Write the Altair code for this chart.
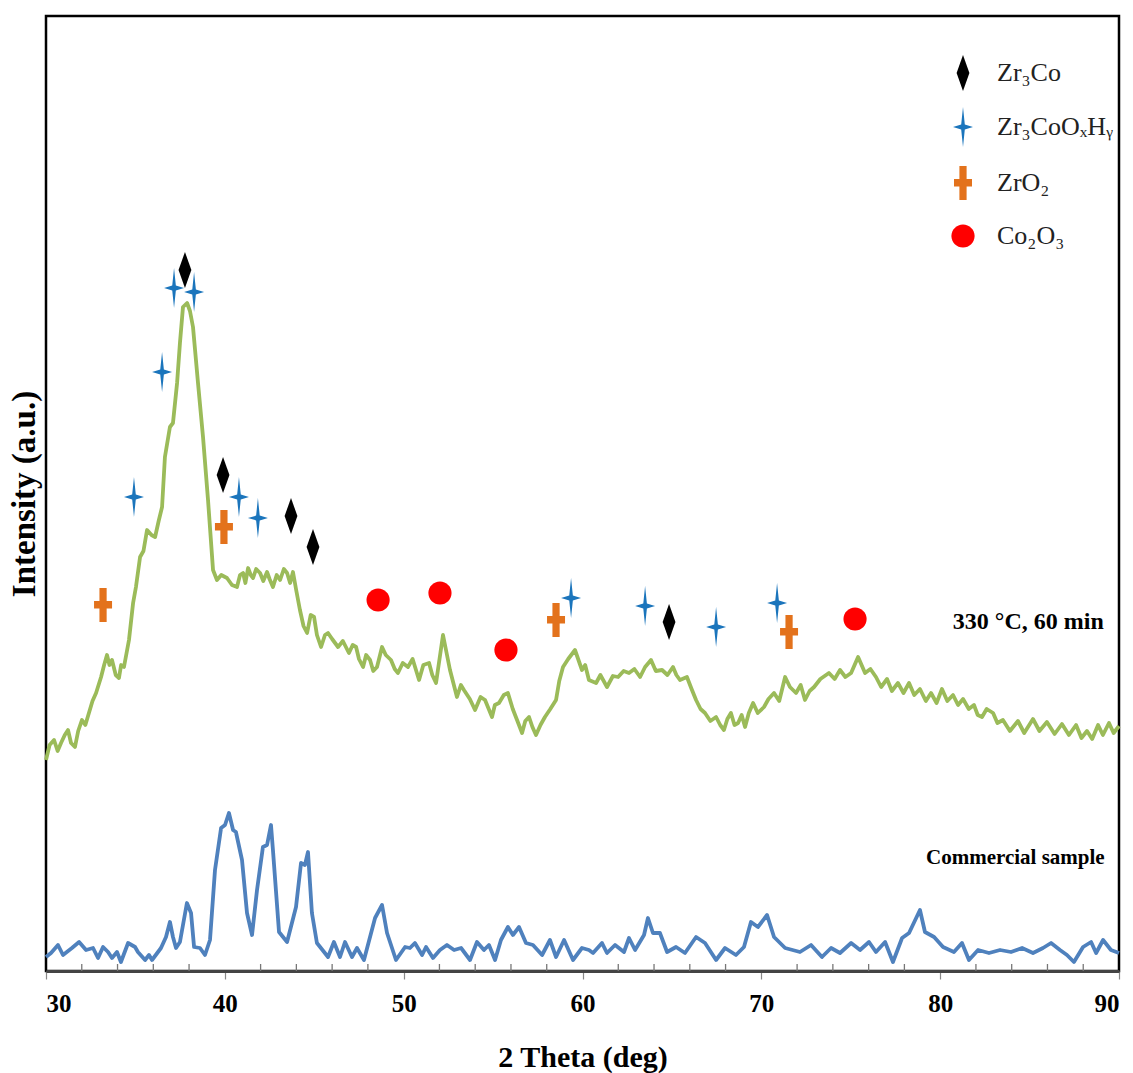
import altair as alt
import pandas as pd

# ---- 330 °C, 60 min (green) ----
two_theta_330 = [30.0, 30.2, 30.45, 30.65, 30.84, 31.05, 31.23, 31.4, 31.62, 31.8, 32.01, 32.2, 32.40, 32.6, 32.80,
                 33.08, 33.25, 33.41, 33.55, 33.69, 33.9, 34.08, 34.2, 34.36, 34.64, 34.87, 35.03, 35.26, 35.45,
                 35.65, 35.9, 36.10, 36.3, 36.49, 36.65, 36.93, 37.10, 37.33, 37.49, 37.66, 37.89, 38.05, 38.22,
                 38.50, 38.78, 39.06, 39.34, 39.56, 39.8, 40.12, 40.4, 40.68, 40.85, 41.02, 41.15, 41.30, 41.45,
                 41.58, 41.75, 41.97, 42.15, 42.36, 42.5, 42.69, 42.9, 43.09, 43.3, 43.48, 43.65, 43.81, 44.0,
                 44.20, 44.40, 44.60, 44.8, 44.99, 45.15, 45.38, 45.6, 45.77, 46.0, 46.33, 46.6, 46.94, 47.15,
                 47.34, 47.5, 47.73, 47.9, 48.12, 48.3, 48.51, 48.79, 49.0, 49.29, 49.5, 49.68, 49.95, 50.24,
                 50.5, 50.86, 51.1, 51.42, 51.6, 51.81, 52.20, 52.59, 52.98, 53.2, 53.37, 53.7, 53.99, 54.3,
                 54.55, 54.94, 55.1, 55.33, 55.6, 55.83, 56.1, 56.34, 56.62, 56.8, 57.01, 57.2, 57.40, 57.65,
                 57.90, 58.2, 58.52, 58.7, 58.91, 59.2, 59.58, 59.97, 60.15, 60.36, 60.76, 61.0, 61.37, 61.7,
                 61.99, 62.3, 62.60, 62.9, 63.22, 63.5, 63.83, 64.1, 64.45, 64.75, 65.06, 65.25, 65.45, 65.84,
                 66.1, 66.35, 66.6, 66.85, 67.15, 67.47, 67.7, 67.91, 68.1, 68.30, 68.5, 68.70, 68.9, 69.09,
                 69.3, 69.54, 69.8, 70.15, 70.4, 70.71, 71.0, 71.33, 71.6, 71.94, 72.2, 72.44, 72.7, 72.95,
                 73.3, 73.78, 74.1, 74.40, 74.7, 75.02, 75.41, 75.80, 76.1, 76.41, 76.7, 77.03, 77.3, 77.64,
                 77.95, 78.26, 78.55, 78.87, 79.2, 79.49, 79.8, 80.10, 80.4, 80.72, 81.0, 81.28, 81.6, 81.89,
                 82.1, 82.34, 82.6, 82.96, 83.2, 83.51, 83.9, 84.35, 84.7, 85.19, 85.55, 85.97, 86.4, 86.81,
                 87.2, 87.60, 87.9, 88.21, 88.5, 88.83, 89.1, 89.44, 89.7, 90.0]
intensity_330 = [211, 226, 231, 220, 228, 236, 241, 228, 224, 240, 251, 246, 258, 270, 278,
                 294, 306, 316, 306, 311, 296, 293, 306, 304, 331, 368, 384, 414, 420,
                 441, 436, 434, 450, 464, 514, 544, 548, 588, 628, 664, 668, 660, 644,
                 588, 534, 471, 401, 391, 396, 393, 386, 384, 396, 398, 388, 403, 396,
                 393, 402, 398, 390, 399, 392, 384, 396, 391, 402, 398, 388, 399, 380,
                 361, 345, 338, 356, 354, 336, 324, 336, 338, 332, 324, 330, 318, 326,
                 324, 312, 304, 316, 311, 300, 304, 324, 316, 311, 302, 298, 308, 304,
                 312, 291, 306, 308, 296, 288, 336, 301, 274, 286, 281, 272, 261, 274,
                 271, 254, 266, 268, 276, 278, 262, 251, 238, 250, 254, 244, 236, 246,
                 254, 262, 271, 290, 304, 312, 321, 301, 306, 291, 288, 296, 284, 295,
                 294, 300, 298, 302, 294, 304, 311, 300, 301, 296, 304, 296, 291, 294,
                 282, 271, 262, 258, 250, 254, 246, 241, 252, 258, 246, 248, 256, 244,
                 258, 268, 258, 264, 272, 278, 270, 294, 284, 278, 286, 271, 280, 284,
                 292, 298, 292, 301, 294, 298, 314, 298, 302, 294, 284, 292, 280, 288,
                 278, 288, 276, 282, 270, 278, 268, 282, 270, 276, 266, 272, 262, 266,
                 256, 254, 262, 258, 248, 251, 240, 250, 238, 252, 240, 249, 237, 247,
                 236, 246, 233, 240, 232, 246, 236, 248, 238, 245]

# ---- Commercial sample (blue) ----
two_theta_comm = [30.0, 30.28, 30.67, 30.95, 31.45, 31.85, 32.24, 32.63, 32.91, 33.19, 33.47, 33.69, 33.97, 34.19,
                  34.59, 34.98, 35.14, 35.54, 35.76, 35.93, 36.43, 36.71, 36.93, 37.10, 37.27, 37.49, 37.88, 38.11,
                  38.28, 38.61, 38.89, 39.17, 39.45, 39.79, 40.01, 40.23, 40.46, 40.62, 40.96, 41.24, 41.52, 41.80,
                  42.13, 42.36, 42.58, 42.69, 43.03, 43.48, 43.98, 44.26, 44.48, 44.65, 44.87, 45.15, 45.55, 45.77,
                  46.10, 46.44, 46.72, 47.11, 47.39, 47.78, 48.40, 48.79, 49.07, 49.57, 50.08, 50.35, 50.63, 51.03,
                  51.25, 51.64, 52.03, 52.42, 52.82, 53.21, 53.71, 54.10, 54.49, 54.77, 55.11, 55.44, 55.83, 56.11,
                  56.45, 56.84, 57.23, 57.74, 58.18, 58.52, 58.97, 59.47, 59.97, 60.36,
                  60.59, 61.09, 61.37, 61.82, 62.32, 62.60, 62.94, 63.44, 63.66, 63.94, 64.33, 64.73, 65.23, 65.73,
                  66.35, 66.85, 67.47, 67.97, 68.58, 69.03, 69.42, 69.81, 70.32, 70.71, 71.33, 72.16, 72.78, 73.39,
                  73.90, 74.40, 75.02, 75.52, 76.02, 76.41, 76.92, 77.36, 77.87, 78.26, 78.87, 79.15, 79.66, 80.16,
                  80.77, 81.22, 81.61, 82.12, 82.73, 83.35, 83.96, 84.58, 85.19, 85.75, 86.20, 86.70, 87.09, 87.48,
                  87.99, 88.44, 88.72, 89.11, 89.55, 90.0]
intensity_comm = [14, 18, 26, 16, 23, 29, 21, 23, 13, 24, 19, 13, 19, 9,
                  28, 24, 19, 11, 16, 11, 23, 34, 49, 34, 23, 29, 68, 58,
                  24, 23, 16, 31, 101, 143, 146, 158, 141, 139, 111, 58, 36, 81,
                  124, 126, 146, 121, 39, 29, 64, 108, 106, 119, 58, 28, 19, 14,
                  29, 14, 29, 14, 23, 11, 53, 66, 38, 11, 24, 23, 28, 16,
                  24, 13, 21, 26, 21, 23, 11, 29, 21, 26, 11, 31, 44, 36,
                  44, 28, 26, 16, 31, 14, 31, 11, 23, 21,
                  18, 28, 18, 26, 19, 33, 21, 36, 53, 38, 38, 19, 24, 18,
                  34, 28, 11, 23, 16, 24, 49, 44, 56, 34, 23, 19, 26, 14,
                  23, 18, 28, 21, 29, 19, 29, 9, 33, 38, 61, 39, 34, 24,
                  19, 28, 11, 21, 18, 21, 19, 23, 18, 23, 28, 21, 16, 9,
                  24, 29, 18, 31, 21, 18]

assert len(two_theta_330) == len(intensity_330)
assert len(two_theta_comm) == len(intensity_comm)

# ---- Phase markers ----
phases = ["Zr\u2083Co", "Zr\u2083CoO\u2093H\u1d67", "ZrO\u2082", "Co\u2082O\u2083"]
zr3co_x = [37.77, 39.90, 43.70, 44.93, 64.84]
zr3co_y = [701, 496, 455, 424, 349]
zr3coohy_x = [37.16, 38.28, 36.49, 34.92, 40.79, 41.85, 59.36, 63.50, 67.47, 70.88]
zr3coohy_y = [683, 679, 599, 474, 474, 453, 373, 365, 344, 368]
zro2_x = [33.19, 39.95, 58.52, 71.55]
zro2_y = [366, 444, 351, 339]
co2o3_x = [48.57, 52.03, 55.72, 75.24]
co2o3_y = [371, 378, 321, 352]

phase_colors = ["#000000", "#1b75bc", "#e3721c", "#ff0000"]
phase_shapes = [
    "M0,-0.9L0.32,0L0,0.9L-0.32,0Z",
    "M0,-1L0.09,-0.12L0.5,0L0.09,0.12L0,1L-0.09,0.12L-0.5,0L-0.09,-0.12Z",
    "M-0.18,-0.85L0.18,-0.85L0.18,-0.2L0.45,-0.2L0.45,0.18L0.18,0.18L0.18,0.85L-0.18,0.85L-0.18,0.18L-0.45,0.18L-0.45,-0.2L-0.18,-0.2Z",
    "M0.58,0A0.58,0.58 0 1,1 -0.58,0A0.58,0.58 0 1,1 0.58,0Z",
]

# ---- annotations ----
label_330 = ["330 \u00b0C, 60 min"]
label_330_x = [89.15]
label_330_y = [349]
label_comm = ["Commercial sample"]
label_comm_x = [89.2]
label_comm_y = [113]

major_ticks = [30, 40, 50, 60, 70, 80, 90]
minor_ticks = [32, 34, 36, 38, 42, 44, 46, 48, 52, 54, 56, 58, 62, 64, 66, 68, 72, 74, 76, 78, 82, 84, 86, 88]
minor_tick_low = [0] * len(minor_ticks)
minor_tick_high = [7] * len(minor_ticks)

df330 = pd.DataFrame({"two_theta": two_theta_330, "intensity": intensity_330})
dfcomm = pd.DataFrame({"two_theta": two_theta_comm, "intensity": intensity_comm})
mk_rows = []
for name, xs, ys in [(phases[0], zr3co_x, zr3co_y), (phases[1], zr3coohy_x, zr3coohy_y),
                     (phases[2], zro2_x, zro2_y), (phases[3], co2o3_x, co2o3_y)]:
    for a, b in zip(xs, ys):
        mk_rows.append({"two_theta": a, "intensity": b, "phase": name})
dfmk = pd.DataFrame(mk_rows)
dflab1 = pd.DataFrame({"two_theta": label_330_x, "intensity": label_330_y, "label": label_330})
dflab2 = pd.DataFrame({"two_theta": label_comm_x, "intensity": label_comm_y, "label": label_comm})
dfminor = pd.DataFrame({"two_theta": minor_ticks, "lo": minor_tick_low, "hi": minor_tick_high})

FONT = "Liberation Serif"
xscale = alt.Scale(domain=[30, 90], nice=False, zero=False)
yscale = alt.Scale(domain=[0, 955], nice=False, zero=False)

x_axis = alt.Axis(values=major_ticks, format="d", title="2 Theta (deg)",
                  labelFont=FONT, labelFontWeight="bold", labelFontSize=25, labelColor="black",
                  labelPadding=12, tickSize=8, tickColor="#888888", tickWidth=1.2,
                  domainColor="#444444", domainWidth=3, grid=False,
                  titleFont=FONT, titleFontWeight="bold", titleFontSize=30, titleColor="black",
                  titlePadding=26)
y_axis = alt.Axis(labels=False, ticks=False, grid=False, domain=False, title="Intensity (a.u.)",
                  titleFont=FONT, titleFontWeight="bold", titleFontSize=33, titleColor="black",
                  titlePadding=5)

X = alt.X("two_theta:Q", scale=xscale, axis=x_axis)
Y = alt.Y("intensity:Q", scale=yscale, axis=y_axis)

line330 = alt.Chart(df330).mark_line(color="#9bbb59", strokeWidth=3.8, strokeJoin="round").encode(x=X, y=Y)
linecomm = alt.Chart(dfcomm).mark_line(color="#4f81bd", strokeWidth=3.8, strokeJoin="round").encode(x=X, y=Y)
minor = alt.Chart(dfminor).mark_rule(color="#777777", strokeWidth=1.3).encode(
    x=X, y=alt.Y("lo:Q", scale=yscale, axis=y_axis), y2="hi:Q")
markers = alt.Chart(dfmk).mark_point(filled=True, size=1600, opacity=1, strokeWidth=0).encode(
    x=X, y=Y,
    color=alt.Color("phase:N", scale=alt.Scale(domain=phases, range=phase_colors),
                    legend=alt.Legend(title=None, orient="none", legendX=897, legendY=37,
                                      symbolSize=1600, symbolStrokeWidth=0, symbolType="circle",
                                      labelFont=FONT, labelFontSize=26, labelColor="#222222",
                                      labelOffset=14, rowPadding=16, padding=0, labelLimit=300)),
    shape=alt.Shape("phase:N", scale=alt.Scale(domain=phases, range=phase_shapes), legend=None),
)
text330 = alt.Chart(dflab1).mark_text(font=FONT, fontWeight="bold", fontSize=24, align="right",
                                      baseline="middle", color="black").encode(x=X, y=Y, text="label:N")
textcomm = alt.Chart(dflab2).mark_text(font=FONT, fontWeight="bold", fontSize=21, align="right",
                                       baseline="middle", color="black").encode(x=X, y=Y, text="label:N")

chart = alt.layer(line330, linecomm, minor, markers, text330, textcomm).properties(
    width=1073, height=955,
    autosize=alt.AutoSizeParams(type="none"),
    padding={"left": 46, "top": 16, "right": 14, "bottom": 102},
    background="white",
).configure_view(stroke="black", strokeWidth=2.5)

chart.save("out.html", embed_options={"renderer": "svg", "actions": False})
